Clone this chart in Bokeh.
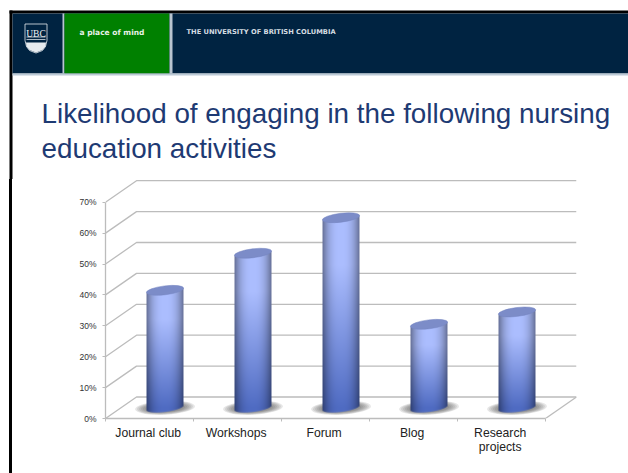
import numpy as np
from bokeh.plotting import figure
from bokeh.embed import file_html
from bokeh.layouts import column, row
from bokeh.resources import INLINE
from bokeh.core.properties import value
from bokeh.models import ColumnDataSource, FixedTicker, NumeralTickFormatter, Range1d, Spacer

categories = ["Journal club", "Workshops", "Forum", "Blog", "Research\nprojects"]
values = [0.38, 0.50, 0.615, 0.27, 0.31]
y_ticks = [0.0, 0.1, 0.2, 0.3, 0.4, 0.5, 0.6, 0.7]
title_lines = ["Likelihood of engaging in the following nursing", "education activities"]
header_tag = "a place of mind"
header_org = "THE UNIVERSITY OF BRITISH COLUMBIA"

W, H, HEAD_H, STRIP_W = 628, 473, 179, 12
NAVY = "#002341"

# ---------- header and title (pixel space of the page) ----------
head = figure(width=W, height=HEAD_H, output_backend="svg", toolbar_location=None,
              x_range=Range1d(0, W), y_range=Range1d(HEAD_H, 0), x_axis_type=None, y_axis_type=None,
              min_border=0, outline_line_color=None, border_fill_color="white", background_fill_color="white")
head.grid.visible = False

def box(l, t, r, b, color):
    head.quad(left=[l], right=[r], top=[t], bottom=[b], fill_color=color, line_color=None)

def label(x, y, text, size, color, font="Liberation Sans", style="normal", align="left"):
    head.text(x=[x], y=[y], text=[text], text_font=value(font), text_font_size=value(size), text_color=color,
              text_font_style=style, text_align=align, text_baseline="alphabetic")

box(9, 10, 628, 13, "#000000")
box(9, 10, 12, 179, "#000000")
box(12, 13, 628, 73, NAVY)
box(62, 13, 64, 73, "#b8c4cf")
box(64, 13, 169, 73, "#008000")
box(169, 13, 172, 73, "#b8c4cf")
box(12, 73, 628, 75, "#bccad6")
label(79, 31.5, header_tag, "7.5px", "#e8f2e8", font="DejaVu Sans", style="bold")
label(186, 31.5, header_org, "6.7px", "#d5dde3", font="DejaVu Sans", style="bold")
label(41, 113, title_lines[0], "27.8px", "#1e3a73")
label(41, 147.5, title_lines[1], "27.8px", "#1e3a73")

# UBC crest
head.patch([24.5, 46.5, 46.5, 45, 42, 35.5, 29, 26, 24.5], [23.5, 23.5, 40, 46, 50, 52.5, 50, 46, 40],
           fill_color=NAVY, line_color="#e6ebef", line_width=0.8)
head.patch([25.5, 45.5, 45, 42, 35.5, 29, 26], [42, 42, 46, 49.5, 52, 49.5, 46], fill_color="#e6ebef", line_color=None)
box(26, 36, 45, 37, "#aab7c2")
box(26, 38.5, 45, 39.5, "#aab7c2")
label(35.5, 33, "UBC", "9.5px", "#f2f4f6", font="Liberation Serif", align="center")

# ---------- black slide edge beside the chart ----------
strip = Spacer(width=3, height=H - HEAD_H, margin=(0, 0, 0, STRIP_W - 3), styles={"background-color": "#000000"})

# ---------- chart ----------
PX_CAT, PX_VAL = 88.0, 309.0
LEFT, RIGHT, TOP, BOTTOM = 105 - STRIP_W, 52, 0, 55
DX, DY = 31 / PX_CAT, 21.5 / PX_VAL   # oblique depth of the chart box

p = figure(width=W - STRIP_W, height=H - HEAD_H, output_backend="svg", toolbar_location=None,
           x_range=Range1d(0, (W - STRIP_W - LEFT - RIGHT) / PX_CAT),
           y_range=Range1d(0, (H - HEAD_H - TOP - BOTTOM) / PX_VAL),
           min_border_left=LEFT, min_border_right=RIGHT, min_border_top=TOP, min_border_bottom=BOTTOM,
           outline_line_color=None, background_fill_color="white", border_fill_color="white")
p.grid.visible = False

GRID = "#bcbcbc"
xs, ys = [], []
for v in y_ticks:
    xs.append([0, DX, len(categories) + DX])
    ys.append([v, v + DY, v + DY])
xs.append([len(categories), len(categories) + DX])
ys.append([0, DY])
p.multi_line(xs, ys, line_color=GRID, line_width=1.3)

p.yaxis.ticker = FixedTicker(ticks=y_ticks)
p.yaxis.formatter = NumeralTickFormatter(format="0%")
p.yaxis.bounds = (0, y_ticks[-1])
p.yaxis.axis_line_color = GRID
p.yaxis.axis_line_width = 1.3
p.yaxis.major_tick_line_color = GRID
p.yaxis.major_tick_out = 3
p.yaxis.major_tick_in = 0
p.yaxis.minor_tick_out = 0
p.yaxis.minor_tick_in = 0
p.yaxis.major_label_text_font = "Liberation Sans"
p.yaxis.major_label_text_font_size = "8.5px"
p.yaxis.major_label_text_color = "#333333"
p.yaxis.major_label_standoff = 6

centers = [i + 0.5 for i in range(len(categories))]
label_pos = [c - 0.015 for c in centers]
p.xaxis.ticker = FixedTicker(ticks=label_pos, minor_ticks=list(range(len(categories) + 1)))
p.xaxis.major_label_overrides = {c: n for c, n in zip(label_pos, categories)}
p.xaxis.bounds = (0, len(categories))
p.xaxis.axis_line_color = GRID
p.xaxis.axis_line_width = 1.3
p.xaxis.major_tick_out = 0
p.xaxis.major_tick_in = 0
p.xaxis.minor_tick_line_color = GRID
p.xaxis.minor_tick_out = 3
p.xaxis.minor_tick_in = 0
p.xaxis.major_label_text_font = "Liberation Sans"
p.xaxis.major_label_text_font_size = "12.2px"
p.xaxis.major_label_text_color = "#222222"
p.xaxis.major_label_text_line_height = 1.0
p.xaxis.major_label_standoff = 4

HALF_W = 18.5     # px
TILT = np.tan(np.radians(7))
SEMI_MIN = 4.2    # px
cx = [c + DX / 2 for c in centers]
base = [DY / 2] * len(values)
tops = [b + v for b, v in zip(base, values)]
src = ColumnDataSource(dict(x=cx, base=base, top=tops))

for w, h in [(60, 14), (56, 13), (52, 12), (48, 11), (44, 10), (40, 9)]:
    p.ellipse("x", "base", width=w, height=h, angle=np.radians(3), width_units="screen", height_units="screen",
              source=src, fill_color="#555555", fill_alpha=0.15, line_color=None)

TOP_C = np.array([172, 190, 255.0])
BOT_C = np.array([80, 108, 195.0])
images, ix, iy, idw, idh = [], [], [], [], []
for c, b, t in zip(cx, base, tops):
    hpx = int(round((t - b) * PX_VAL)) + 16
    wpx = int(2 * HALF_W) + 2
    yy, xx = np.mgrid[0:hpx, 0:wpx]          # yy counted upward from image bottom
    xc = (xx + 0.5 - wpx / 2)
    u = np.clip(xc / HALF_W, -1, 1)
    yc = yy + 0.5 - 8                        # px above the cylinder's base centre
    hbody = (t - b) * PX_VAL
    lower = xc * TILT - SEMI_MIN * np.sqrt(1 - u ** 2)
    upper = hbody + xc * TILT
    a = np.clip(yc - lower + 0.5, 0, 1) * np.clip(upper - yc + 0.5, 0, 1) * np.clip(HALF_W - np.abs(xc) + 0.5, 0, 1)
    f = np.clip(yc / hbody, 0, 1)[..., None]
    mix = np.clip(f / 0.75, 0, 1)
    col = BOT_C + (TOP_C - BOT_C) * mix
    edge = 1 - 0.42 * np.abs(u[..., None]) ** 2.6
    col = np.clip(col * edge, 0, 255)
    img = np.zeros((hpx, wpx), dtype=np.uint32)
    view = img.view(dtype=np.uint8).reshape((hpx, wpx, 4))
    view[..., 0:3] = col.astype(np.uint8)
    view[..., 3] = (a * 255).astype(np.uint8)
    images.append(img)
    ix.append(c - wpx / 2 / PX_CAT)
    iy.append(b - 8 / PX_VAL)
    idw.append(wpx / PX_CAT)
    idh.append(hpx / PX_VAL)
p.image_rgba(image=images, x=ix, y=iy, dw=idw, dh=idh)

p.ellipse("x", "top", width=2 * HALF_W + 0.5, height=2 * SEMI_MIN + 0.5, angle=np.radians(7),
          width_units="screen", height_units="screen", source=src,
          fill_color="#7c8cc8", line_color="#7585c0", line_width=0.5)

page = column(head, row(strip, p, spacing=0), spacing=0)
open("out.html", "w").write(file_html(page, INLINE))
